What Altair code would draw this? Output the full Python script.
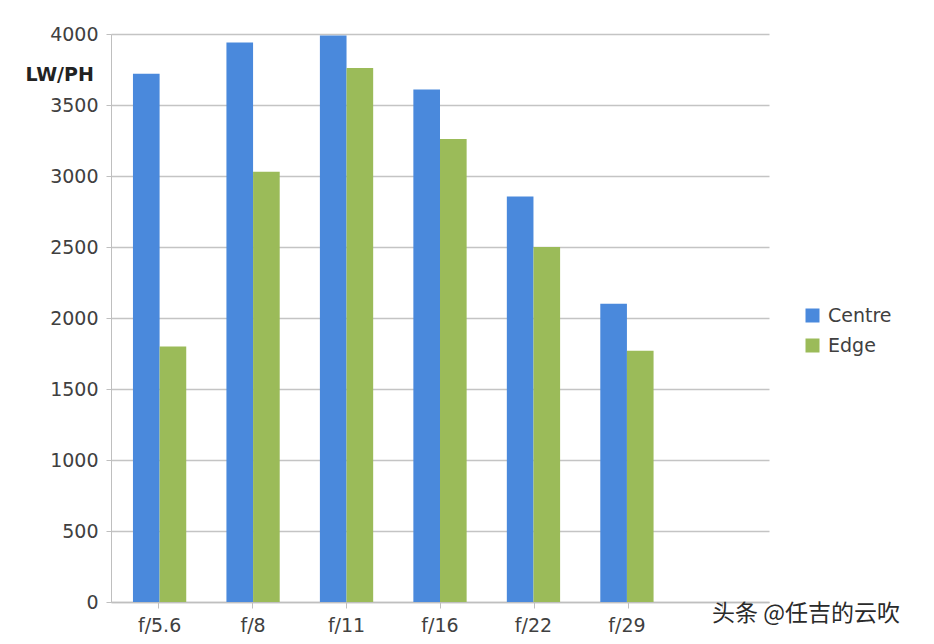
import altair as alt
import pandas as pd

categories = ["f/5.6", "f/8", "f/11", "f/16", "f/22", "f/29"]
slots = categories + [" "]
centre = [3720, 3940, 3990, 3610, 2855, 2100]
edge = [1800, 3030, 3760, 3260, 2500, 1770]
series = ["Centre", "Edge"]
colors = ["#4A89DC", "#9BBB59"]
y_ticks = [0, 500, 1000, 1500, 2000, 2500, 3000, 3500, 4000]
watermark = ["头条 @任吉的云吹"]

rows = []
for c, v in zip(categories, centre):
    rows.append({"aperture": c, "series": "Centre", "lwph": v})
for c, v in zip(categories, edge):
    rows.append({"aperture": c, "series": "Edge", "lwph": v})
df = pd.DataFrame(rows)
slot_df = pd.DataFrame({"aperture": slots})

FONT = "DejaVu Sans"
TXT = "#404040"
GRID = "#C4C4C4"

xscale = alt.Scale(domain=slots, paddingInner=0.43, paddingOuter=0.235)
yscale = alt.Scale(domain=[0, 4000], nice=False)

bars = alt.Chart(df).mark_bar().encode(
    x=alt.X("aperture:N", scale=xscale, sort=slots,
            axis=alt.Axis(orient="bottom", title=None, labelAngle=0, ticks=False,
                          domain=False, grid=False, labelFontSize=19, labelColor=TXT,
                          labelFont=FONT, labelPadding=14)),
    xOffset=alt.XOffset("series:N", sort=series,
                        scale=alt.Scale(paddingInner=0, paddingOuter=0)),
    y=alt.Y("lwph:Q", scale=yscale,
            axis=alt.Axis(values=y_ticks, format="d", title="LW/PH", titleAngle=0,
                          titleX=-86, titleY=40, titleAlign="left",
                          titleBaseline="middle", titleFontWeight="bold",
                          titleFontSize=19, titleFont=FONT, titleColor="#222222",
                          labelFontSize=19, labelFont=FONT, labelColor=TXT,
                          labelPadding=8, tickSize=5, tickColor="#BFBFBF",
                          domainColor="#BFBFBF", grid=True, gridColor=GRID,
                          gridWidth=1.4)),
    color=alt.Color("series:N", scale=alt.Scale(domain=series, range=colors),
                    legend=alt.Legend(title=None, orient="none", legendX=692,
                                      legendY=272, symbolType="square",
                                      symbolSize=196, symbolStrokeWidth=0,
                                      labelFontSize=19, labelFont=FONT,
                                      labelColor=TXT, labelOffset=6,
                                      rowPadding=10, padding=0)),
)

tick_axis = alt.Chart(slot_df).mark_point(opacity=0).encode(
    x=alt.X("aperture:N",
            scale=alt.Scale(domain=slots, paddingInner=0, paddingOuter=0),
            sort=slots,
            axis=alt.Axis(orient="bottom", title=None, labels=False, ticks=True,
                          bandPosition=0, tickSize=6, tickColor="#BFBFBF",
                          domainColor="#BFBFBF", domainWidth=1.4, grid=False)),
)

mark = alt.Chart(pd.DataFrame({"t": watermark})).mark_text(
    align="left", baseline="middle", font="Noto Sans CJK SC", fontSize=23,
    color="#2a2a2a"
).encode(text="t:N", x=alt.value(601), y=alt.value(580))

chart = alt.layer(bars, tick_axis, mark).resolve_scale(
    x="independent"
).resolve_axis(x="independent").properties(
    width=658, height=568,
    autosize=alt.AutoSizeParams(type="none"),
    padding={"left": 103, "top": 26, "right": 150, "bottom": 34},
).configure_view(stroke=None)

chart.save("out.html", embed_options={"renderer": "svg", "actions": False})
